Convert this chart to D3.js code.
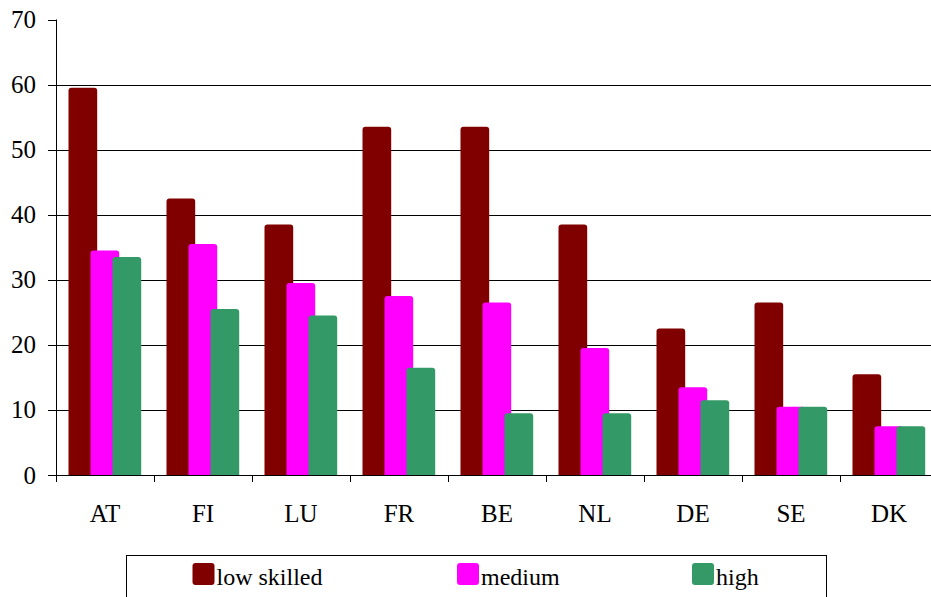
<!DOCTYPE html>
<html>
<head>
<meta charset="utf-8">
<script src="https://cdn.jsdelivr.net/npm/d3@7"></script>
<style>
  body { margin: 0; background: #fff; }
  svg { display: block; }
  text { font-family: 'Liberation Serif', 'Times New Roman', Times, serif; }
</style>
</head>
<body>
<div id="chart"></div>
<script>
// data
var countries = ['AT', 'FI', 'LU', 'FR', 'BE', 'NL', 'DE', 'SE', 'DK'];
var lowSkilled = [59.5, 42.5, 38.5, 53.5, 53.5, 38.5, 22.5, 26.5, 15.5];
var medium = [34.5, 35.5, 29.5, 27.5, 26.5, 19.5, 13.5, 10.5, 7.5];
var high = [33.5, 25.5, 24.5, 16.5, 9.5, 9.5, 11.5, 10.5, 7.5];
var seriesNames = ['low skilled', 'medium', 'high'];
var yTicks = [0, 10, 20, 30, 40, 50, 60, 70];

var width = 931, height = 597;
var colors = ['#800000', '#ff00ff', '#339966'];
var series = [lowSkilled, medium, high];
var font = "'Liberation Serif', 'Times New Roman', Times, serif";

var svg = d3.select('#chart').append('svg')
  .attr('width', width)
  .attr('height', height);

// scales
var x = d3.scaleBand()
  .domain(countries)
  .range([56, 56 + 98 * countries.length])
  .padding(0);
var y = d3.scaleLinear()
  .domain([0, 70])
  .range([475, 19.5]);

var barW = 28.7, barStep = 22, barOff = 12.5, r = 3;

// gridlines
svg.append('g')
  .selectAll('line')
  .data(yTicks.filter(function (d) { return d > 0 && d < 70; }))
  .enter()
  .append('line')
  .attr('x1', 56)
  .attr('x2', width)
  .attr('y1', function (d) { return Math.round(y(d)) + 0.5; })
  .attr('y2', function (d) { return Math.round(y(d)) + 0.5; })
  .attr('stroke', '#000')
  .attr('stroke-width', 1);

// bars, top corners rounded
function barPath(x0, v) {
  var x1 = x0 + barW, yb = y(0), yt = y(v);
  return 'M' + x0 + ',' + yb +
    'V' + (yt + r) +
    'Q' + x0 + ',' + yt + ' ' + (x0 + r) + ',' + yt +
    'H' + (x1 - r) +
    'Q' + x1 + ',' + yt + ' ' + x1 + ',' + (yt + r) +
    'V' + yb + 'Z';
}

series.forEach(function (vals, j) {
  svg.append('g')
    .selectAll('path')
    .data(vals)
    .enter()
    .append('path')
    .attr('fill', colors[j])
    .attr('d', function (d, i) {
      return barPath(x(countries[i]) + barOff + j * barStep, d);
    });
});

// y axis
var yAxis = svg.append('g');
yAxis.append('line')
  .attr('x1', 56.5).attr('x2', 56.5)
  .attr('y1', y(70)).attr('y2', y(0))
  .attr('stroke', '#000');
yAxis.selectAll('line.tick')
  .data(yTicks)
  .enter()
  .append('line')
  .attr('class', 'tick')
  .attr('x1', 48).attr('x2', 56)
  .attr('y1', function (d) { return Math.round(y(d)) + 0.5; })
  .attr('y2', function (d) { return Math.round(y(d)) + 0.5; })
  .attr('stroke', '#000');
yAxis.selectAll('text')
  .data(yTicks)
  .enter()
  .append('text')
  .attr('x', 36)
  .attr('y', function (d) { return y(d); })
  .attr('dy', '0.34em')
  .attr('text-anchor', 'end')
  .attr('font-family', font)
  .attr('font-size', 25)
  .attr('fill', '#000')
  .text(function (d) { return d; });

// x axis
var xAxis = svg.append('g');
xAxis.append('line')
  .attr('x1', 56).attr('x2', width)
  .attr('y1', Math.round(y(0)) + 0.5).attr('y2', Math.round(y(0)) + 0.5)
  .attr('stroke', '#000');
xAxis.selectAll('line.tick')
  .data(countries)
  .enter()
  .append('line')
  .attr('class', 'tick')
  .attr('x1', function (d) { return Math.round(x(d)) + 0.5; })
  .attr('x2', function (d) { return Math.round(x(d)) + 0.5; })
  .attr('y1', y(0))
  .attr('y2', y(0) + 7)
  .attr('stroke', '#000');
xAxis.selectAll('text')
  .data(countries)
  .enter()
  .append('text')
  .attr('x', function (d) { return x(d) + x.bandwidth() / 2; })
  .attr('y', 522)
  .attr('text-anchor', 'middle')
  .attr('font-family', font)
  .attr('font-size', 25)
  .attr('fill', '#000')
  .text(function (d) { return d; });

// legend
var legend = svg.append('g');
legend.append('rect')
  .attr('x', 126.5).attr('y', 555.5)
  .attr('width', 700).attr('height', 60)
  .attr('fill', 'none')
  .attr('stroke', '#000');
var legendX = [192.5, 457, 692];
var items = legend.selectAll('g.item')
  .data(seriesNames)
  .enter()
  .append('g')
  .attr('class', 'item')
  .attr('transform', function (d, i) { return 'translate(' + legendX[i] + ',563)'; });
items.append('rect')
  .attr('width', 22).attr('height', 22)
  .attr('rx', 3)
  .attr('fill', function (d, i) { return colors[i]; });
items.append('text')
  .attr('x', 24)
  .attr('y', 22)
  .attr('font-family', font)
  .attr('font-size', 24)
  .attr('fill', '#000')
  .text(function (d) { return d; });
</script>
</body>
</html>
